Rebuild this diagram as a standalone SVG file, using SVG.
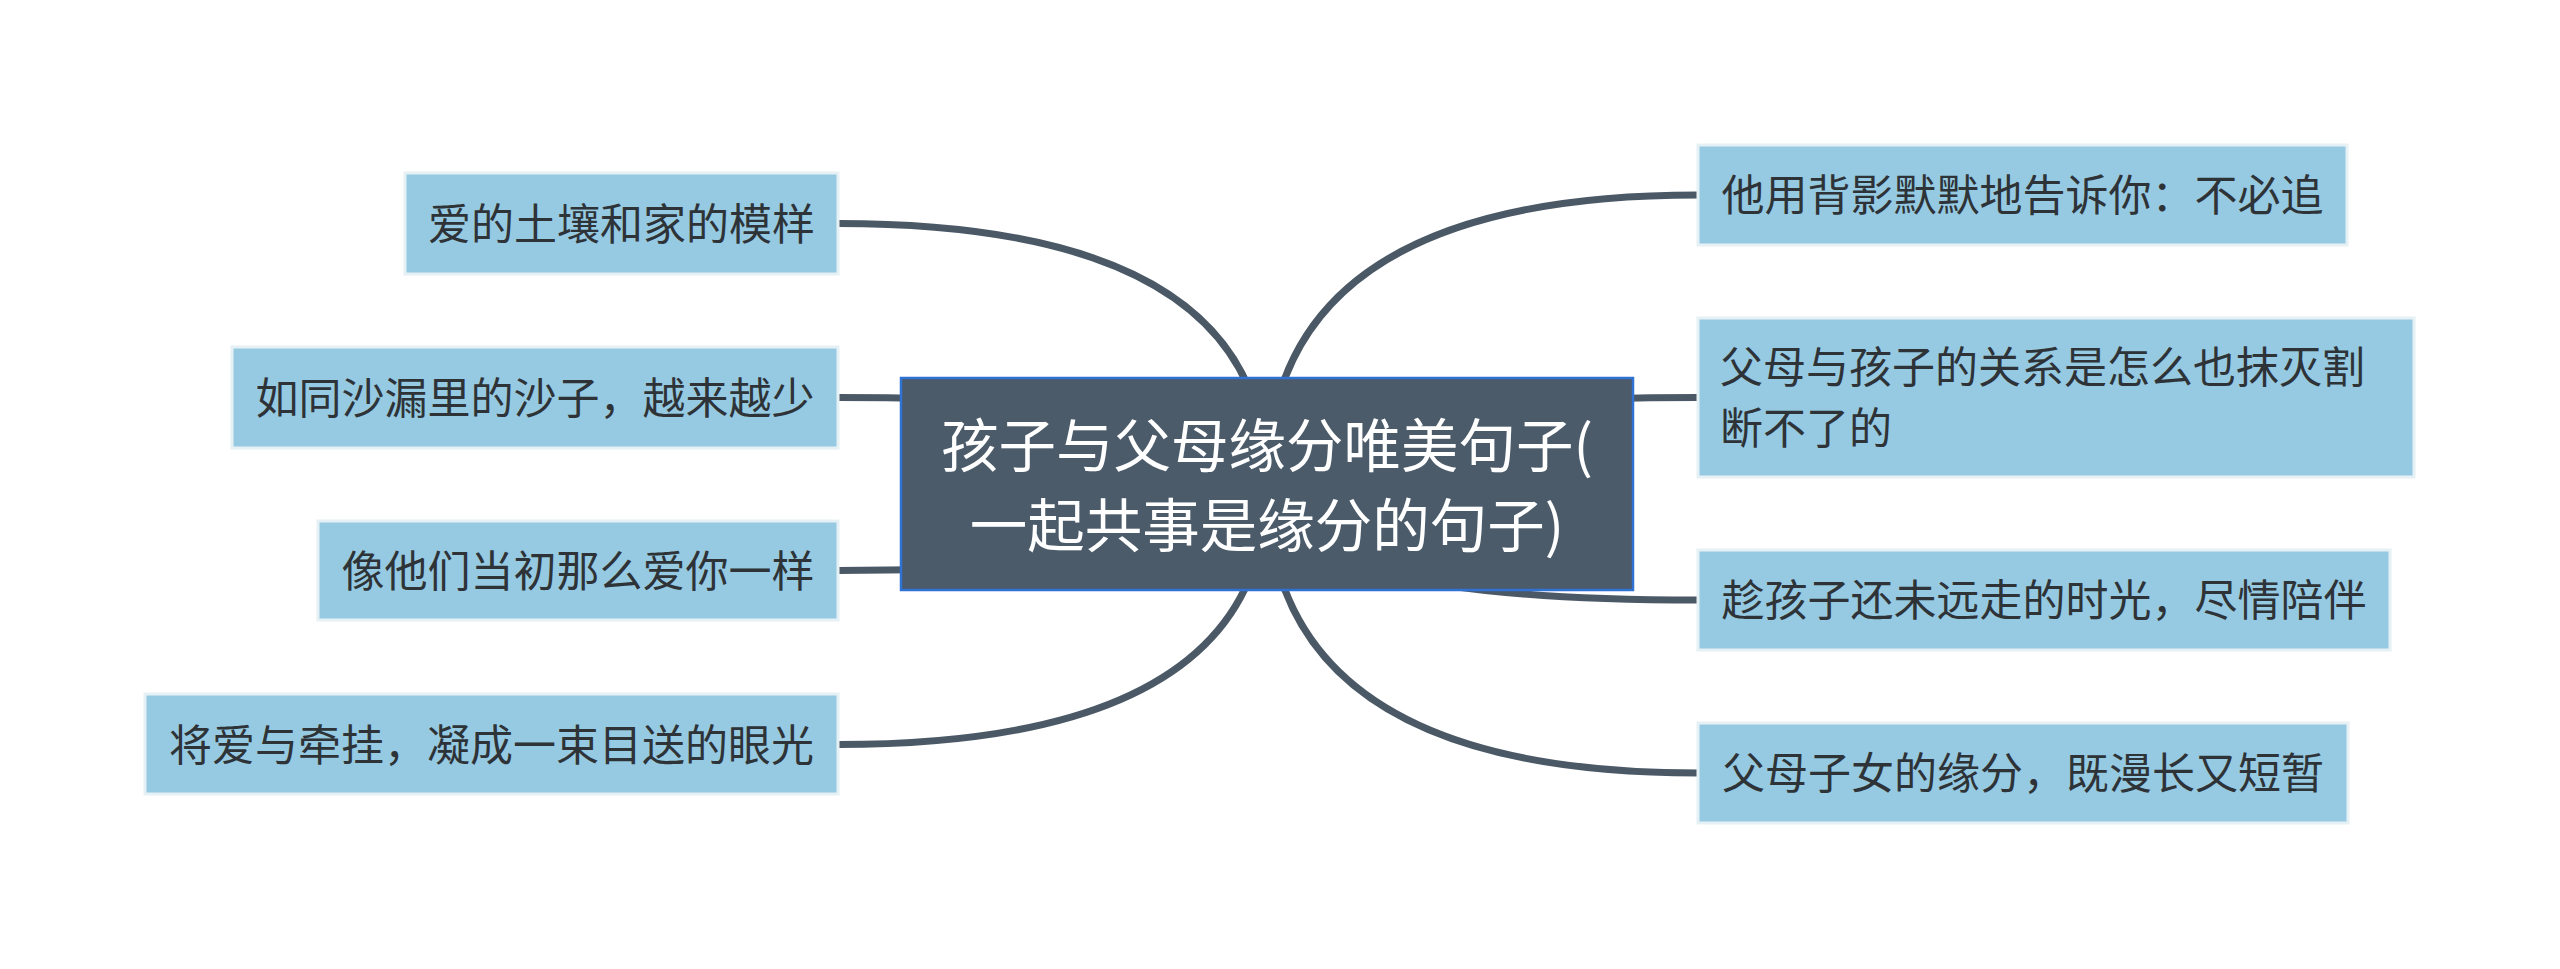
<svg xmlns="http://www.w3.org/2000/svg" width="2560" height="969" viewBox="0 0 2560 969">
<style>
.bg{fill:#ffffff}
.conn path{fill:none;stroke:#4b5967;stroke-width:7;stroke-linecap:butt}
.leaf rect{fill:#96cae2;stroke:#e6f1f6;stroke-width:3}
.leaf text{font-family:"Noto Sans CJK SC","Noto Sans",sans-serif;font-size:43px;fill:#2e3338}
.root rect{fill:#4b5b6a;stroke:#2f72d4;stroke-width:2.5}
.root text{font-family:"Noto Sans CJK SC","Noto Sans",sans-serif;font-size:57.5px;fill:#ffffff;text-anchor:middle}
.mid{text-anchor:middle}
</style>
<rect class="bg" x="0" y="0" width="2560" height="969"/>
<g id="connectors" class="conn">
<path d="M1267 484 Q1267 223.5 838 223.5"/>
<path d="M1267 484 Q1267 397.5 838 397.5"/>
<path d="M1267 484 Q1267 570.5 838 570.5"/>
<path d="M1267 484 Q1267 744.5 838 744.5"/>
<path d="M1267 484 Q1267 195 1698 195"/>
<path d="M1267 484 Q1267 397.5 1698 397.5"/>
<path d="M1267 484 Q1267 600 1698 600"/>
<path d="M1267 484 Q1267 773 1698 773"/>
</g>
<g id="root" class="root">
<rect x="901" y="378" width="732" height="212"/>
<text x="1267" y="467">孩子与父母缘分唯美句子(</text>
<text x="1267" y="547">一起共事是缘分的句子)</text>
</g>
<g id="n1" class="leaf">
<rect x="405" y="173" width="433" height="101"/>
<text class="mid" x="621.5" y="239.5">爱的土壤和家的模样</text>
</g>
<g id="n2" class="leaf">
<rect x="232" y="347" width="606" height="101"/>
<text class="mid" x="535" y="413.5">如同沙漏里的沙子，越来越少</text>
</g>
<g id="n3" class="leaf">
<rect x="318" y="521" width="520" height="99"/>
<text class="mid" x="578" y="586.5">像他们当初那么爱你一样</text>
</g>
<g id="n4" class="leaf">
<rect x="145" y="694" width="693" height="100"/>
<text class="mid" x="491.5" y="760.5">将爱与牵挂，凝成一束目送的眼光</text>
</g>
<g id="n5" class="leaf">
<rect x="1698" y="145" width="649" height="100"/>
<text class="mid" x="2022.5" y="211">他用背影默默地告诉你：不必追</text>
</g>
<g id="n6" class="leaf">
<rect x="1698" y="318" width="716" height="159"/>
<text x="1720" y="383">父母与孩子的关系是怎么也抹灭割</text>
<text x="1720" y="444">断不了的</text>
</g>
<g id="n7" class="leaf">
<rect x="1698" y="550" width="692" height="100"/>
<text class="mid" x="2044" y="616">趁孩子还未远走的时光，尽情陪伴</text>
</g>
<g id="n8" class="leaf">
<rect x="1698" y="723" width="650" height="100"/>
<text class="mid" x="2023" y="789">父母子女的缘分，既漫长又短暂</text>
</g>
</svg>
